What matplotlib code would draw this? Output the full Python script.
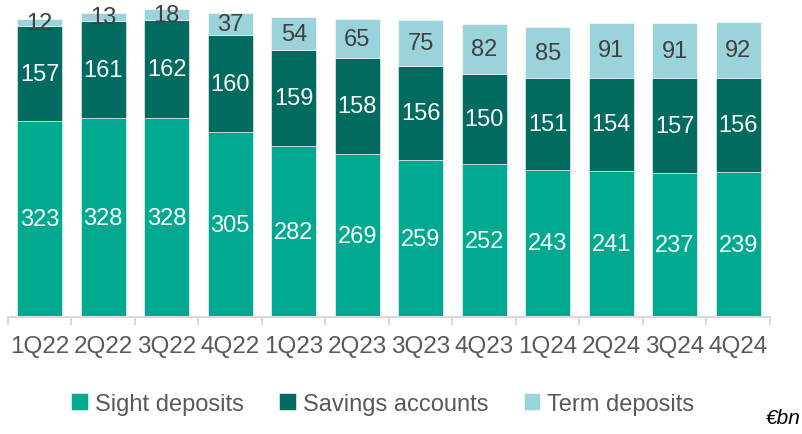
import matplotlib.pyplot as plt
import numpy as np

quarters = ['1Q22', '2Q22', '3Q22', '4Q22', '1Q23', '2Q23', '3Q23', '4Q23',
            '1Q24', '2Q24', '3Q24', '4Q24']
sight = [323, 328, 328, 305, 282, 269, 259, 252, 243, 241, 237, 239]
savings = [157, 161, 162, 160, 159, 158, 156, 150, 151, 154, 157, 156]
term = [12, 13, 18, 37, 54, 65, 75, 82, 85, 91, 91, 92]

plt.rcParams['font.family'] = ['Liberation Sans', 'DejaVu Sans']

fig = plt.figure(figsize=(8.03, 4.35), dpi=100)
ax = fig.add_axes([8 / 803, 117 / 435, 762 / 803, 318 / 435])

x = np.arange(len(quarters))
w = 0.71
series = [
    ('Sight deposits', sight, '#00A98F', 'white'),
    ('Savings accounts', savings, '#006B5E', 'white'),
    ('Term deposits', term, '#9AD3DA', '#404040'),
]
bottom = np.zeros(len(quarters))
for name, vals, color, tcol in series:
    vals = np.array(vals)
    ax.bar(x, vals, w, bottom=bottom, color=color, edgecolor='white',
           linewidth=0.4, label=name)
    for xi, b, v in zip(x, bottom, vals):
        ax.text(xi, b + v / 2, str(v), ha='center', va='center',
                fontsize=17, color=tcol)
    bottom += vals

ax.set_xlim(-0.5, 11.5)
ax.set_ylim(0, 525)
ax.set_yticks([])
for s in ['top', 'right', 'left']:
    ax.spines[s].set_visible(False)
ax.spines['bottom'].set_color('#D9D9D9')
ax.spines['bottom'].set_linewidth(1.5)

ax.set_xticks(x)
ax.set_xticklabels(quarters, fontsize=17.5, color='#595959')
ax.tick_params(axis='x', which='major', length=0, pad=13)
ax.set_xticks(np.arange(-0.5, 12, 1), minor=True)
ax.tick_params(axis='x', which='minor', length=6, width=1.5, color='#D9D9D9')

fig.legend(loc='center', bbox_to_anchor=(0.477, 0.07), ncol=3, frameon=False,
           fontsize=17, handlelength=0.7, handleheight=0.7,
           handletextpad=0.3, columnspacing=1.5, labelcolor='#595959')

fig.text(0.997, 0.015, '€bn', ha='right', va='bottom', fontsize=15,
         style='italic', color='black')

fig.savefig('out.png', dpi=100)
